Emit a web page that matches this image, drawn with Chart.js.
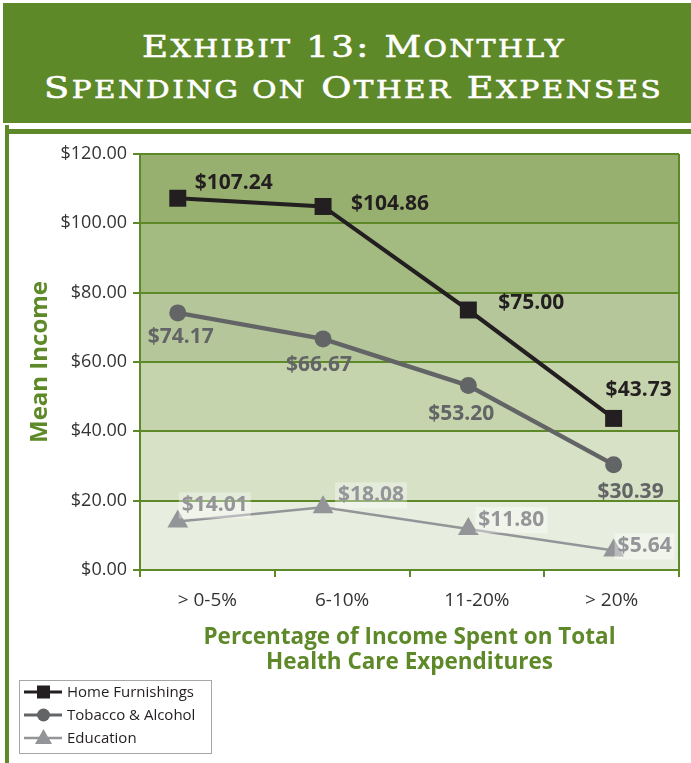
<!DOCTYPE html>
<html>
<head>
<meta charset="utf-8">
<script src="https://cdn.jsdelivr.net/npm/chart.js"></script>
<style>
body { margin: 0; background: #fff; }
#wrap { position: relative; width: 691px; height: 763px; overflow: hidden; }
#head { position: absolute; left: 3px; top: 3px; width: 688px; height: 120px; background: #5e8929; }
#head .line { position: absolute; left: 0; color: #fff; font-family: 'DejaVu Serif';
  font-size: 30px; line-height: 41px; letter-spacing: 2px; white-space: nowrap; transform-origin: 0 0;
  -webkit-text-stroke: 0.6px #fff; }
#head .s { font-size: 24px; }
#rule { position: absolute; left: 5px; top: 129px; width: 686px; height: 5px; background: #5e8929; }
#side { position: absolute; left: 5px; top: 125px; width: 4px; height: 638px; background: #5e8929; }
canvas { position: absolute; left: 0; top: 0; }
</style>
</head>
<body>
<div id="wrap">
  <div id="head">
    <span class="line" id="t1" style="top:23px">E<span class="s">XHIBIT</span> 13: M<span class="s">ONTHLY</span></span>
    <span class="line" id="t2" style="top:64px">S<span class="s">PENDING ON</span> O<span class="s">THER</span> E<span class="s">XPENSES</span></span>
  </div>
  <div id="rule"></div>
  <div id="side"></div>
  <canvas id="chart" width="691" height="763"></canvas>
</div>
<script>
const categories = ['> 0-5%', '6-10%', '11-20%', '> 20%'];
const homeFurnishings = [107.24, 104.86, 75.00, 43.73];
const tobaccoAlcohol = [74.17, 66.67, 53.20, 30.39];
const education = [14.01, 18.08, 11.80, 5.64];
const seriesNames = ['Home Furnishings', 'Tobacco & Alcohol', 'Education'];
const yTicks = [0, 20, 40, 60, 80, 100, 120];

const green = '#5e8929';
const bandColors = ['#e8eedf', '#d7e1c6', '#c6d4ae', '#b5c79a', '#a3ba80', '#97b06f'];

// stretch the title lines to the width of the wide engraved face
[['t1', 421], ['t2', 617]].forEach(([id, target]) => {
  const el = document.getElementById(id);
  const w = el.offsetWidth - 2;
  el.style.left = (349.5 - target / 2) + 'px';
  el.style.transform = 'scaleX(' + (target / w) + ')';
});

const toPoints = arr => arr.map((v, i) => ({ x: i, y: v }));

// shaded bands + right frame of the plot
const bands = {
  id: 'bands',
  beforeDraw(chart) {
    const { ctx, chartArea, scales } = chart;
    for (let i = 0; i < yTicks.length - 1; i++) {
      const yb = scales.y.getPixelForValue(yTicks[i]);
      const yt = scales.y.getPixelForValue(yTicks[i + 1]);
      ctx.fillStyle = bandColors[i];
      ctx.fillRect(chartArea.left, yt, chartArea.right - chartArea.left, yb - yt);
    }
  },
  beforeDatasetsDraw(chart) {
    const { ctx, chartArea } = chart;
    ctx.save();
    ctx.strokeStyle = green;
    ctx.lineWidth = 2;
    ctx.beginPath();
    ctx.moveTo(chartArea.right, chartArea.top);
    ctx.lineTo(chartArea.right, chartArea.bottom);
    ctx.stroke();
    ctx.restore();
  }
};

// value labels next to each point
const pointLabels = {
  id: 'pointLabels',
  afterDatasetsDraw(chart) {
    const ctx = chart.ctx;
    ctx.save();
    ctx.font = 'bold 21px "Open Sans"';
    ctx.textBaseline = 'middle';
    for (let di = chart.data.datasets.length - 1; di >= 0; di--) {
      const ds = chart.data.datasets[di];
      const meta = chart.getDatasetMeta(di);
      meta.data.forEach((pt, i) => {
        const [dx, dy] = ds.labelOffset[i];
        const text = '$' + ds.data[i].y.toFixed(2);
        const w = ctx.measureText(text).width;
        let x = pt.x + dx;
        if (ds.labelAlign === 'center') x -= w / 2;
        const y = pt.y + dy;
        if (ds.labelBox) {
          ctx.fillStyle = 'rgba(255,255,255,0.35)';
          ctx.fillRect(x - 3, y - 13, w + 6, 26);
        }
        ctx.fillStyle = ds.labelColor;
        ctx.textAlign = 'left';
        ctx.fillText(text, x, y);
      });
    }
    ctx.restore();
  }
};

// legend box in the lower left corner
const legendBox = {
  id: 'legendBox',
  afterDraw(chart) {
    const ctx = chart.ctx;
    ctx.save();
    ctx.fillStyle = '#fff';
    ctx.fillRect(19.5, 680.5, 192, 73);
    ctx.strokeStyle = '#a6a6a6';
    ctx.lineWidth = 1;
    ctx.strokeRect(19.5, 680.5, 192, 73);
    const rows = [692, 715, 738];
    chart.data.datasets.forEach((ds, i) => {
      const y = rows[i];
      ctx.strokeStyle = ds.borderColor;
      ctx.fillStyle = ds.borderColor;
      ctx.lineWidth = i === 2 ? 2.5 : 3;
      ctx.beginPath();
      ctx.moveTo(24, y);
      ctx.lineTo(62, y);
      ctx.stroke();
      ctx.beginPath();
      if (ds.pointStyle === 'rect') {
        ctx.rect(37, y - 6.5, 13, 13);
      } else if (ds.pointStyle === 'circle') {
        ctx.arc(43.5, y, 6.5, 0, Math.PI * 2);
      } else {
        ctx.moveTo(43.5, y - 9);
        ctx.lineTo(52, y + 6);
        ctx.lineTo(35, y + 6);
        ctx.closePath();
      }
      ctx.fill();
      ctx.fillStyle = '#231f20';
      ctx.font = '15px "Open Sans"';
      ctx.textBaseline = 'middle';
      ctx.fillText(seriesNames[i], 67, y + 1);
    });
    ctx.restore();
  }
};

new Chart(document.getElementById('chart'), {
  type: 'line',
  data: {
    labels: categories,
    datasets: [{
      label: seriesNames[0],
      data: toPoints(homeFurnishings),
      xAxisID: 'xp',
      borderColor: '#231f20',
      backgroundColor: '#231f20',
      borderWidth: 4,
      pointStyle: 'rect',
      pointRadius: 12,
      pointBorderWidth: 0,
      labelColor: '#231f20',
      labelAlign: 'left',
      labelOffset: [[17, -15], [28, -2], [30, -7], [-8, -28]]
    }, {
      label: seriesNames[1],
      data: toPoints(tobaccoAlcohol),
      xAxisID: 'xp',
      borderColor: '#636466',
      backgroundColor: '#636466',
      borderWidth: 4.5,
      pointStyle: 'circle',
      pointRadius: 8.5,
      pointBorderWidth: 0,
      labelColor: '#636466',
      labelAlign: 'center',
      labelOffset: [[3, 24], [-4, 26], [-7, 28], [17, 27]]
    }, {
      label: seriesNames[2],
      data: toPoints(education),
      xAxisID: 'xp',
      borderColor: '#939598',
      backgroundColor: '#939598',
      borderWidth: 2.5,
      pointStyle: 'triangle',
      pointRadius: 12,
      pointBorderWidth: 0,
      labelColor: '#939598',
      labelAlign: 'left',
      labelBox: true,
      labelOffset: [[4, -16], [15, -12], [10, -9], [4, -4]]
    }]
  },
  options: {
    responsive: false,
    devicePixelRatio: 1,
    animation: false,
    layout: { padding: { left: 0, right: 12, top: 154, bottom: 83 } },
    plugins: { legend: { display: false }, tooltip: { enabled: false } },
    scales: {
      x: {
        type: 'category',
        offset: true,
        grid: { offset: true, drawOnChartArea: false, tickLength: 7, color: green, lineWidth: 2 },
        border: { color: green, width: 2 },
        ticks: { color: '#333', font: { family: 'Open Sans', size: 19 }, padding: 12 },
        title: {
          display: true,
          text: ['Percentage of Income Spent on Total', 'Health Care Expenditures'],
          color: green,
          font: { family: 'Open Sans', size: 22.5, weight: 'bold', lineHeight: 1.12 },
          padding: { top: 0, bottom: 5 }
        },
        afterFit(s) { s.height = 110; }
      },
      xp: { type: 'linear', display: false, min: -0.26, max: 3.45 },
      y: {
        min: 0,
        max: 120,
        afterBuildTicks(s) { s.ticks = yTicks.map(v => ({ value: v })); },
        grid: { color: green, lineWidth: 2, tickLength: 7 },
        border: { color: green, width: 2 },
        ticks: { color: '#333', font: { family: 'Open Sans', size: 18 }, padding: 6,
          callback: v => '$' + v.toFixed(2) },
        title: {
          display: true,
          text: 'Mean Income',
          color: green,
          font: { family: 'Open Sans', size: 24, weight: 'bold' },
          padding: { top: 26, bottom: 0 }
        },
        afterFit(s) { s.width = 140; }
      }
    }
  },
  plugins: [bands, pointLabels, legendBox]
});
</script>
</body>
</html>
